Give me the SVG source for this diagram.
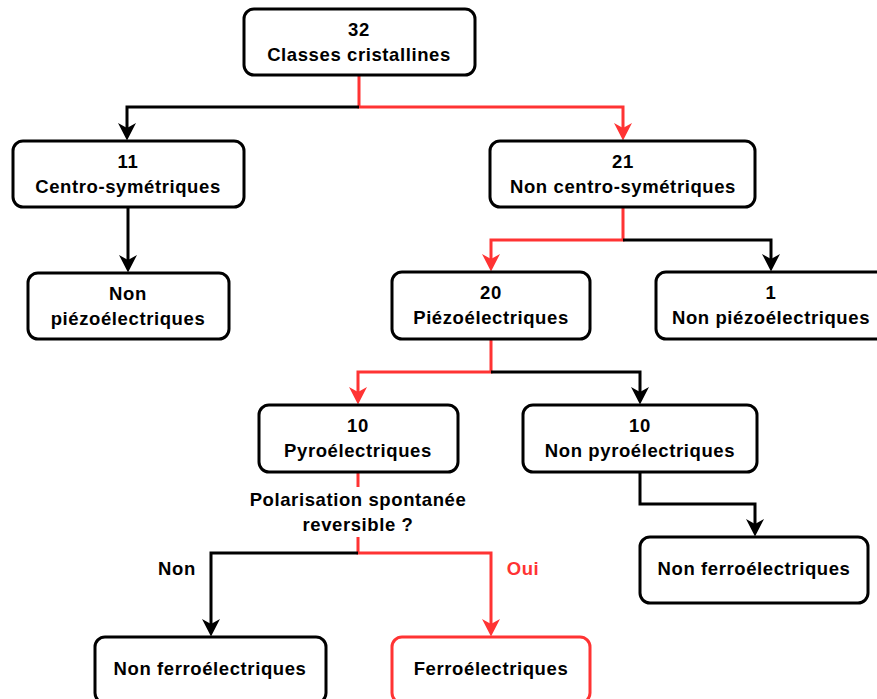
<svg xmlns="http://www.w3.org/2000/svg" width="877" height="699" viewBox="0 0 877 699">
<style>
.box{fill:#fff;stroke:#000;stroke-width:3}
.rbox{fill:#fff;stroke:#ff3333;stroke-width:3}
.t{font-family:"Liberation Sans",Arial,sans-serif;font-weight:bold;font-size:18.5px;letter-spacing:0.6px;text-anchor:middle;fill:#000}
.tr{fill:#ff3333}
.k{fill:none;stroke:#000;stroke-width:3}
.r{fill:none;stroke:#ff3333;stroke-width:3}
</style>
<defs>
<marker id="ak" markerUnits="userSpaceOnUse" markerWidth="18" markerHeight="19" viewBox="0 0 18 19" refX="10" refY="9.5" orient="auto">
<path d="M0,0.5 L17.5,9.5 L0,18.5 L5,9.5 Z" fill="#000"/>
</marker>
<marker id="ar" markerUnits="userSpaceOnUse" markerWidth="18" markerHeight="19" viewBox="0 0 18 19" refX="10" refY="9.5" orient="auto">
<path d="M0,0.5 L17.5,9.5 L0,18.5 L5,9.5 Z" fill="#ff3333"/>
</marker>
</defs>
<g id="connectors">
<path class="r" d="M359,75 V107 H623 V133" marker-end="url(#ar)"/>
<path class="k" d="M359,107 H127 V133" marker-end="url(#ak)"/>
<path class="k" d="M128,207 V265" marker-end="url(#ak)"/>
<path class="r" d="M623,207 V240 H491 V264" marker-end="url(#ar)"/>
<path class="k" d="M623,240 H771 V264" marker-end="url(#ak)"/>
<path class="r" d="M491,339 V372 H358 V397" marker-end="url(#ar)"/>
<path class="k" d="M491,372 H640 V397" marker-end="url(#ak)"/>
<path class="k" d="M640,472 V504 H755 V529" marker-end="url(#ak)"/>
<path class="r" d="M358,472 V487"/>
<path class="r" d="M358,537 V553 H491 V629" marker-end="url(#ar)"/>
<path class="k" d="M358,553 H211 V629" marker-end="url(#ak)"/>
</g>
<g id="label-question">
<text class="t" x="358" y="506">Polarisation spontanée</text>
<text class="t" x="358" y="531">reversible ?</text>
</g>
<g id="label-non"><text class="t" x="177" y="575">Non</text></g>
<g id="label-oui"><text class="t tr" x="523" y="575">Oui</text></g>
<g id="n32">
<rect class="box" x="244" y="9" width="231" height="66" rx="10"/>
<text class="t" x="359" y="36">32</text>
<text class="t" x="359" y="61">Classes cristallines</text>
</g>
<g id="n11">
<rect class="box" x="13" y="141" width="231" height="66" rx="10"/>
<text class="t" x="128" y="168">11</text>
<text class="t" x="128" y="193">Centro-symétriques</text>
</g>
<g id="n21">
<rect class="box" x="490" y="141" width="265" height="66" rx="10"/>
<text class="t" x="623" y="168">21</text>
<text class="t" x="623" y="193">Non centro-symétriques</text>
</g>
<g id="nonpiezo-left">
<rect class="box" x="28" y="273" width="201" height="66" rx="10"/>
<text class="t" x="128" y="300">Non</text>
<text class="t" x="128" y="325">piézoélectriques</text>
</g>
<g id="n20">
<rect class="box" x="392" y="272" width="198" height="67" rx="10"/>
<text class="t" x="491" y="299">20</text>
<text class="t" x="491" y="324">Piézoélectriques</text>
</g>
<g id="n1">
<rect class="box" x="656" y="272" width="230" height="67" rx="10"/>
<text class="t" x="771" y="299">1</text>
<text class="t" x="771" y="324">Non piézoélectriques</text>
</g>
<g id="pyro">
<rect class="box" x="259" y="405" width="199" height="67" rx="10"/>
<text class="t" x="358" y="432">10</text>
<text class="t" x="358" y="457">Pyroélectriques</text>
</g>
<g id="nonpyro">
<rect class="box" x="523" y="405" width="234" height="67" rx="10"/>
<text class="t" x="640" y="432">10</text>
<text class="t" x="640" y="457">Non pyroélectriques</text>
</g>
<g id="nonferro-right">
<rect class="box" x="640" y="537" width="228" height="66" rx="10"/>
<text class="t" x="754" y="575">Non ferroélectriques</text>
</g>
<g id="nonferro-left">
<rect class="box" x="95" y="637" width="231" height="66" rx="10"/>
<text class="t" x="210" y="675">Non ferroélectriques</text>
</g>
<g id="ferro">
<rect class="rbox" x="392" y="637" width="198" height="66" rx="10"/>
<text class="t" x="491" y="675">Ferroélectriques</text>
</g>
</svg>
